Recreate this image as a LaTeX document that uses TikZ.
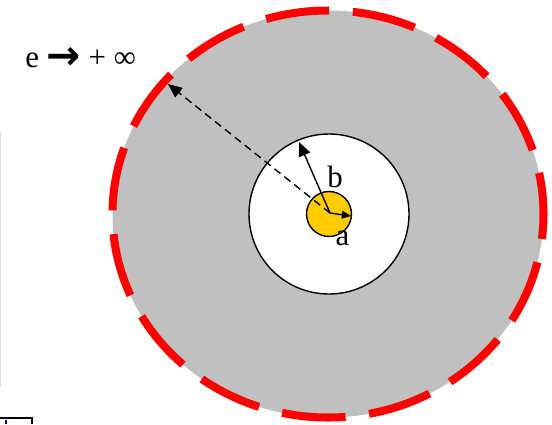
\documentclass[tikz,border=0pt]{standalone}
\usepackage{fontspec}
\setmainfont{Liberation Serif}
\newfontfamily\arrowfont{DejaVu Sans}
\usetikzlibrary{arrows.meta, positioning}
\definecolor{sGray}{HTML}{C0C0C0}
\definecolor{sYellow}{HTML}{FFCC00}
\definecolor{sRed}{HTML}{FF0000}

\begin{document}
\begin{tikzpicture}[x=0.025cm, y=-0.025cm,
      lbl/.style={font=\fontsize{22}{26}\selectfont, inner sep=0pt},
      rad/.style={-{Triangle[length=10pt, width=8.5pt]}, line width=1pt}]
    \useasboundingbox (0,0) rectangle (552,424);
    % far boundary, pushed out to infinity
    \fill[sGray] (328,214) ellipse [x radius=215.5, y radius=203.5];
    \draw[sRed, line width=5.7pt, dash pattern=on 45.4pt off 16.9pt, dash phase=27.6pt]
      (328,214) ellipse [x radius=215.5, y radius=203.5];
    % cavity and inner conductor
    \filldraw[fill=white, draw=black, line width=1pt] (329,214) circle [radius=80];
    \filldraw[fill=sYellow, draw=black, line width=1pt] (329,214) circle [radius=22.5];
    \coordinate (o) at (330,213);
    \coordinate (tipa) at (351,216);
    \coordinate (tipb) at (299,142);
    \coordinate (tipe) at (168,84);
    \draw[rad] (o) -- (tipb);
    \draw[rad, -{Triangle[length=6.5pt, width=5.5pt]}] (o) -- (tipa);
    \draw[rad, dash pattern=on 5.5pt off 3.5pt] (o) -- (tipe);
    \node[lbl, anchor=base] (b) at (335,187) {b};
    \node[lbl, anchor=base] (a) at (342.5,245) {a};
    \node[lbl, anchor=base west] (e) at (25,67)
      {e \raisebox{-2pt}{\arrowfont\bfseries\fontsize{29}{30}\selectfont →} + ∞};
    % bits of the page edge
    \draw[black!12, line width=0.5pt] (0.5,132) -- (0.5,387);
    \draw[black, line width=0.8pt] (0,418) -- (32,418) -- (32,424);
    \draw[blue!70!black, line width=0.8pt] (6,419.5) -- (6,424);
  \end{tikzpicture}
\end{document}
